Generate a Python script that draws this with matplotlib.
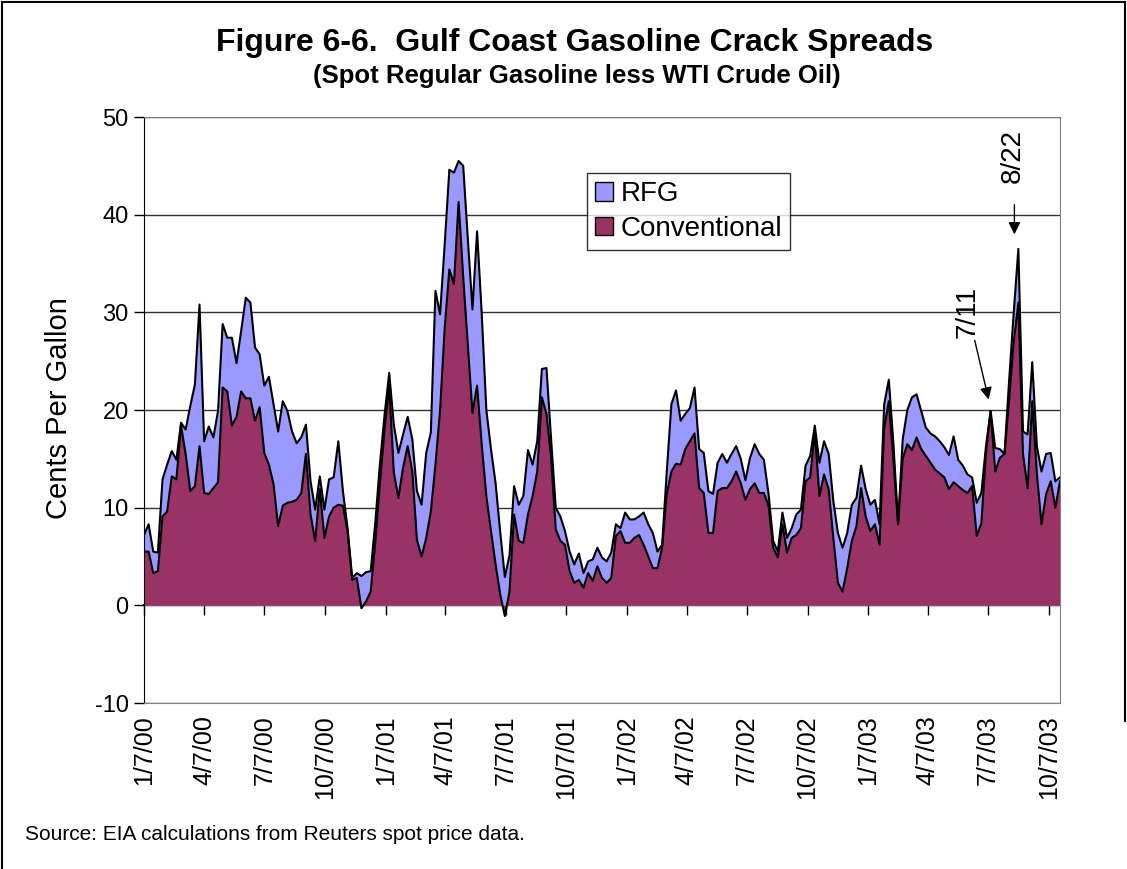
import numpy as np
import pandas as pd
import matplotlib
matplotlib.use('Agg')
import matplotlib.pyplot as plt
from matplotlib.lines import Line2D

plt.rcParams['font.family'] = ['Liberation Sans', 'DejaVu Sans']
plt.rcParams['axes.unicode_minus'] = False

# weekly spreads, cents per gallon, starting Friday 1/7/00
rfg = [7.2, 8.3, 5.5, 5.4, 12.9, 14.4, 15.8, 14.9, 18.7, 18.0,
       20.4, 22.6, 30.8, 16.8, 18.3, 17.2, 19.9, 28.8, 27.4, 27.4,
       24.8, 28.1, 31.5, 31.0, 26.4, 25.7, 22.5, 23.4, 20.6, 17.8,
       20.9, 19.9, 17.8, 16.6, 17.2, 18.5, 12.7, 9.8, 13.2, 9.8,
       12.9, 13.1, 16.8, 11.7, 7.9, 2.8, 3.3, 3.0, 3.4, 3.5,
       8.5, 14.5, 19.5, 23.8, 18.5, 15.6, 17.5, 19.3, 17.0, 11.7,
       10.3, 15.6, 17.7, 32.2, 29.8, 37.0, 44.6, 44.3, 45.5, 45.0,
       37.5, 30.3, 38.3, 29.9, 20.0, 16.0, 12.5, 7.5, 2.9, 5.1,
       12.2, 10.3, 11.2, 15.9, 14.4, 16.8, 24.2, 24.3, 17.0, 10.0,
       9.1, 7.6, 5.5, 4.2, 5.3, 3.3, 4.5, 4.7, 5.9, 4.9,
       4.5, 5.4, 8.3, 7.9, 9.5, 8.8, 8.8, 9.1, 9.5, 8.3,
       7.4, 5.5, 6.2, 13.7, 20.6, 22.0, 18.9, 19.6, 20.2, 22.3,
       16.0, 15.6, 11.7, 11.4, 14.6, 15.5, 14.6, 15.5, 16.3, 15.0,
       12.8, 15.1, 16.5, 15.5, 14.9, 11.4, 6.6, 5.5, 9.5, 6.9,
       7.9, 9.3, 9.8, 14.3, 15.3, 18.4, 14.6, 16.8, 15.5, 10.7,
       7.4, 5.9, 7.4, 10.3, 11.0, 14.3, 11.9, 10.3, 10.8, 8.3,
       20.6, 23.1, 16.5, 8.4, 17.0, 20.0, 21.3, 21.6, 19.9, 18.2,
       17.6, 17.3, 16.8, 16.2, 15.4, 17.3, 14.9, 14.3, 13.4, 13.1,
       10.5, 11.5, 16.3, 19.9, 16.1, 16.0, 15.5, 23.0, 30.0, 36.5,
       17.8, 17.5, 24.9, 16.3, 13.7, 15.5, 15.6, 12.7, 13.1]

conventional = [5.5, 5.5, 3.3, 3.5, 9.1, 9.6, 13.2, 12.9, 18.4, 15.5,
                11.7, 12.2, 16.3, 11.5, 11.4, 12.0, 12.6, 22.3, 21.9, 18.4,
                19.3, 21.9, 21.2, 21.2, 18.9, 20.3, 15.6, 14.4, 12.4, 8.1,
                10.2, 10.5, 10.6, 10.8, 11.5, 15.5, 9.3, 6.6, 11.9, 6.9,
                9.1, 10.0, 10.3, 10.2, 7.6, 2.6, 2.8, -0.3, 0.4, 1.4,
                6.5, 12.5, 18.0, 22.5, 13.6, 11.0, 14.1, 16.3, 13.7, 6.7,
                5.0, 6.9, 9.6, 14.4, 20.0, 28.4, 34.4, 32.9, 41.3, 33.6,
                26.7, 19.7, 22.5, 16.5, 11.2, 7.6, 4.2, 1.1, -1.1, 1.4,
                9.3, 6.6, 6.4, 9.3, 11.2, 13.7, 21.3, 19.6, 15.1, 7.8,
                6.6, 6.2, 3.5, 2.3, 2.6, 1.8, 3.3, 2.5, 4.0, 2.8,
                2.3, 2.8, 7.1, 7.6, 6.4, 6.4, 6.9, 7.2, 6.2, 5.0,
                3.8, 3.8, 5.9, 11.4, 13.7, 14.5, 14.4, 16.0, 16.8, 17.6,
                12.0, 11.5, 7.4, 7.4, 11.7, 12.0, 12.0, 12.7, 13.7, 12.5,
                10.8, 11.9, 12.5, 11.5, 11.5, 10.2, 5.9, 4.9, 8.3, 5.4,
                6.9, 7.2, 7.9, 12.7, 13.1, 17.8, 11.2, 13.4, 11.9, 6.9,
                2.3, 1.4, 3.8, 6.6, 8.1, 12.0, 9.1, 7.6, 8.3, 6.2,
                18.2, 20.9, 14.8, 8.3, 15.0, 16.5, 15.9, 17.2, 16.0, 15.3,
                14.6, 13.9, 13.5, 13.1, 11.9, 12.6, 12.2, 11.8, 11.5, 12.2,
                7.1, 8.4, 15.6, 19.9, 13.7, 15.1, 15.5, 21.0, 27.0, 31.0,
                15.5, 12.0, 20.9, 13.5, 8.3, 11.4, 12.7, 10.0, 12.7]

tick_labels = ['1/7/00', '4/7/00', '7/7/00', '10/7/00',
               '1/7/01', '4/7/01', '7/7/01', '10/7/01',
               '1/7/02', '4/7/02', '7/7/02', '10/7/02',
               '1/7/03', '4/7/03', '7/7/03', '10/7/03']

dates = pd.date_range('2000-01-07', periods=len(rfg), freq='7D')
tick_dates = pd.to_datetime(tick_labels, format='%m/%d/%y')

fig = plt.figure(figsize=(11.27, 8.69), dpi=100)
ax = fig.add_axes([144/1127, 1-703/869, 916/1127, 586/869])

ax.fill_between(dates, 0, rfg, color='#9999FF', lw=0, label='RFG')
ax.plot(dates, rfg, color='black', lw=1.5)
ax.fill_between(dates, 0, conventional, color='#993366', lw=0, label='Conventional')
ax.plot(dates, conventional, color='black', lw=1.5)

ax.set_xlim(dates[0], dates[-1])
ax.set_ylim(-10, 50)
ax.set_yticks(range(-10, 51, 10))
ax.set_axisbelow(True)
ax.yaxis.grid(True, color='#333333', lw=1)
ax.tick_params(axis='y', direction='out', length=7, width=1, labelsize=17, pad=4)

ax.set_xticks(tick_dates)
ax.set_xticklabels(tick_labels, rotation=90, fontsize=18)
ax.tick_params(axis='x', length=0, pad=9)

for s in ['top', 'right', 'bottom']:
    ax.spines[s].set_color('#808080')
ax.spines['left'].set_color('black')

# category axis crossing at zero
zero_axis = ax.secondary_xaxis(1/6)
zero_axis.set_xticks(tick_dates)
zero_axis.tick_params(axis='x', direction='out', length=7, width=1, labelbottom=False)
zero_axis.spines['bottom'].set_color('black')
zero_axis.spines['bottom'].set_linewidth(1.5)

leg = ax.legend(loc='upper left', bbox_to_anchor=(587/1127, 1-173/869),
                bbox_transform=fig.transFigure, borderaxespad=0, fontsize=20,
                frameon=True, fancybox=False, handlelength=0.65, handleheight=0.65,
                handletextpad=0.25, borderpad=0.3, labelspacing=0.3)
leg.get_frame().set_edgecolor('black')
leg.get_frame().set_linewidth(1)
for h in leg.legend_handles:
    h.set_edgecolor('black')
    h.set_linewidth(1)

ax.annotate('', xy=(pd.Timestamp('2003-07-09'), 20.8), xytext=(pd.Timestamp('2003-06-16'), 27.4),
            arrowprops=dict(arrowstyle='-|>', color='black', lw=1, mutation_scale=18))
ax.text(pd.Timestamp('2003-06-06'), 30.0, '7/11', rotation=90, ha='center', va='center', fontsize=20)
ax.annotate('', xy=(pd.Timestamp('2003-08-16'), 37.7), xytext=(pd.Timestamp('2003-08-16'), 41.3),
            arrowprops=dict(arrowstyle='-|>', color='black', lw=1, mutation_scale=18))
ax.text(pd.Timestamp('2003-08-14'), 46.0, '8/22', rotation=90, ha='center', va='center', fontsize=20)

fig.text(0.052, 0.53, 'Cents Per Gallon', rotation=90, ha='center', va='center', fontsize=21)
fig.text(0.51, 0.951, 'Figure 6-6.  Gulf Coast Gasoline Crack Spreads', ha='center', va='center',
         fontsize=23, fontweight='bold')
fig.text(0.512, 0.913, '(Spot Regular Gasoline less WTI Crude Oil)', ha='center', va='center',
         fontsize=18.5, fontweight='bold')
fig.text(0.022, 0.04, 'Source: EIA calculations from Reuters spot price data.', ha='left', va='center',
         fontsize=15)

# outer frame
fig.add_artist(Line2D([2/1127, 2/1127], [0, 1-2/869], color='black', lw=1.5))
fig.add_artist(Line2D([2/1127, 1-2/1127], [1-2/869, 1-2/869], color='black', lw=1.5))
fig.add_artist(Line2D([1-2/1127, 1-2/1127], [1-2/869, 0.17], color='black', lw=1.5))

fig.savefig('out.png', dpi=100)
